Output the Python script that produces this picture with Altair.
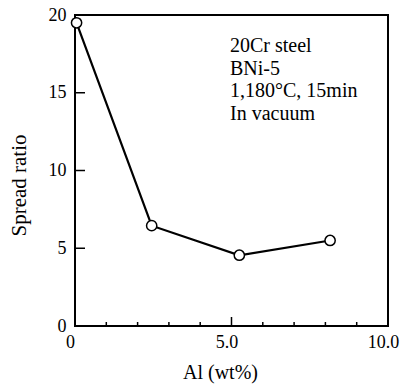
import altair as alt
import pandas as pd

# ---- data ----
al_wt = [0.05, 2.45, 5.25, 8.15]
spread_ratio = [19.5, 6.45, 4.55, 5.5]
x_label_values = [0, 5, 10]
y_label_values = [0, 5, 10, 15, 20]
x_minor_ticks = [1, 2, 3, 4, 6, 7, 8, 9]
x_major_ticks = [5]
y_major_ticks = [5, 10, 15]
note_lines = ["20Cr steel", "BNi-5", "1,180°C, 15min", "In vacuum"]

W, H = 313, 311
FONT = "Liberation Serif"

df = pd.DataFrame({"al": al_wt, "ratio": spread_ratio})
xscale = alt.Scale(domain=[0, 10], nice=False, zero=False)
yscale = alt.Scale(domain=[0, 20], nice=False, zero=False)

x_axis = alt.Axis(
    values=x_label_values,
    labelExpr="datum.value == 0 ? '0' : format(datum.value, '.1f')",
    ticks=False, domain=False, grid=False,
    labelFont=FONT, labelFontSize=18, labelColor="black",
    labelPadding=7, labelOffset=-5, labelFlush=False, labelBound=False, labelOverlap=False,
    title="Al (wt%)", titleFont=FONT, titleFontSize=20, titleFontWeight="normal",
    titleColor="black", titleX=145, titleY=46, titleBaseline="middle", titleAlign="center",
)
y_axis = alt.Axis(
    values=y_label_values,
    ticks=False, domain=False, grid=False,
    labelFont=FONT, labelFontSize=18, labelColor="black",
    labelPadding=9, labelFlush=False, labelBound=False, labelOverlap=False,
    title="Spread ratio", titleFont=FONT, titleFontSize=21, titleFontWeight="normal",
    titleColor="black", titleX=-56, titleY=170, titleAngle=-90,
    titleBaseline="middle", titleAlign="center",
)

base = alt.Chart(df)
line = base.mark_line(color="black", strokeWidth=2.2).encode(
    x=alt.X("al:Q", scale=xscale, axis=x_axis),
    y=alt.Y("ratio:Q", scale=yscale, axis=y_axis),
)
points = base.mark_circle(fill="white", stroke="black", strokeWidth=1.5, size=105, opacity=1).encode(
    x=alt.X("al:Q", scale=xscale),
    y=alt.Y("ratio:Q", scale=yscale),
)

xminor = alt.Chart(pd.DataFrame({"v": x_minor_ticks})).mark_rule(color="black", strokeWidth=1.5).encode(
    x=alt.X("v:Q", scale=xscale), y=alt.value(H), y2=alt.value(H - 4)
)
xmajor = alt.Chart(pd.DataFrame({"v": x_major_ticks})).mark_rule(color="black", strokeWidth=1.5).encode(
    x=alt.X("v:Q", scale=xscale), y=alt.value(H), y2=alt.value(H - 9)
)
ymajor = alt.Chart(pd.DataFrame({"v": y_major_ticks})).mark_rule(color="black", strokeWidth=1.5).encode(
    y=alt.Y("v:Q", scale=yscale), x=alt.value(0), x2=alt.value(10)
)

note = alt.Chart(pd.DataFrame({"k": [0]})).mark_text(
    align="left", baseline="alphabetic", font=FONT, fontSize=20, lineHeight=22.5, color="black"
).encode(x=alt.value(155), y=alt.value(37), text=alt.value(note_lines))

chart = alt.layer(line, points, xminor, xmajor, ymajor, note).properties(
    width=W, height=H,
    autosize=alt.AutoSizeParams(type="none"),
    padding={"left": 75, "top": 15, "right": 13, "bottom": 61},
    background="white",
).configure_view(stroke="black", strokeWidth=2)

chart.save("out.html", embed_options={"renderer": "svg", "actions": False})
